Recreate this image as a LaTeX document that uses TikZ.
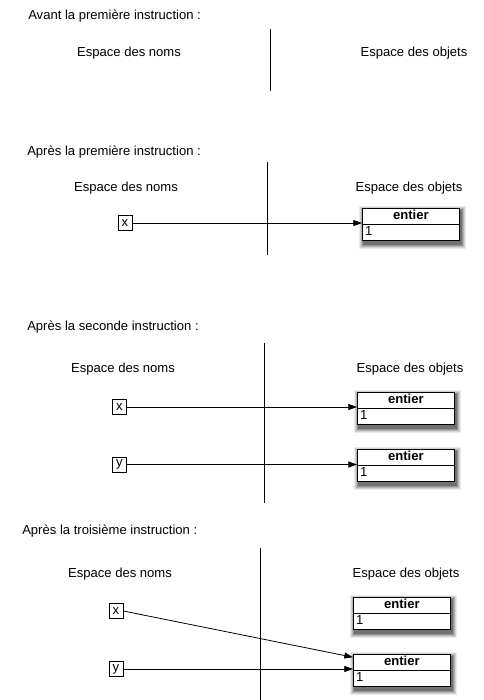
\documentclass[tikz,border=0pt]{standalone}
\usepackage{fontspec}
\setmainfont{Liberation Sans}
\usetikzlibrary{shapes.multipart,arrows.meta,calc,backgrounds}
\newcommand\mystrut{\rule[-3.1pt]{0pt}{11.25pt}}
\newcommand\boxshadow[1]{%
  \begin{scope}[on background layer]
    \foreach \e/\o in {4/0.08,3/0.1,2/0.14,1/0.18,0/0.24}{%
      \fill[black,opacity=\o] ([shift={(1-\e,2-\e)}]#1.north west) rectangle ([shift={(2+\e,4.5+\e)}]#1.south east);}
  \end{scope}}
\begin{document}
\begin{tikzpicture}[x=0.75pt,y=-0.75pt,
  every node/.style={font=\fontsize{9.8}{11}\selectfont},
  title/.style={anchor=base west,inner sep=0pt},
  space/.style={anchor=base,inner sep=0pt},
  sep/.style={line width=0.7pt,black},
  namebox/.style={draw,line width=0.6pt,minimum width=10.5pt,minimum height=11.25pt,inner sep=0pt},
  objbox/.style={rectangle split,rectangle split parts=2,draw,line width=0.6pt,fill=white,
    inner xsep=2pt,inner ysep=0pt,anchor=north west},
  arr/.style={line width=0.6pt,-{Triangle[length=6.5pt,width=4.5pt]}}]
\useasboundingbox (0,0) rectangle (483,700);
% ---------- section 1
\node[title] (t1) at (28,19) {Avant la première instruction :};
\node[space] (n1) at (129,56) {Espace des noms};
\node[space] (s1) at (414,56) {Espace des objets};
\coordinate (v1a) at (270,29); \coordinate (v1b) at (270,91);
\draw[sep] (v1a) -- (v1b);
% ---------- section 2
\node[title] (t2) at (27,155) {Après la première instruction :};
\node[space] (n2) at (126,191) {Espace des noms};
\node[space] (s2) at (409,191) {Espace des objets};
\coordinate (v2a) at (267,162); \coordinate (v2b) at (267,255);
\draw[sep] (v2a) -- (v2b);
\node[namebox] (x2) at (125,223) {x};
\node[objbox] (o2) at (362,208) {\makebox[68.75pt][c]{\mystrut\bfseries entier}\nodepart{two}\makebox[68.75pt][l]{\mystrut 1}};
\boxshadow{o2}
\draw[arr] (x2.east) -- (x2.east -| o2.west);
% ---------- section 3
\node[title] (t3) at (27,330) {Après la seconde instruction :};
\node[space] (n3) at (123,372) {Espace des noms};
\node[space] (s3) at (410,372) {Espace des objets};
\coordinate (v3a) at (264,343); \coordinate (v3b) at (264,503);
\draw[sep] (v3a) -- (v3b);
\node[namebox] (x3) at (119.5,407) {x};
\node[namebox] (y3) at (119.5,464.5) {y};
\node[objbox] (o3a) at (357,392) {\makebox[68.75pt][c]{\mystrut\bfseries entier}\nodepart{two}\makebox[68.75pt][l]{\mystrut 1}};
\node[objbox] (o3b) at (357,449) {\makebox[68.75pt][c]{\mystrut\bfseries entier}\nodepart{two}\makebox[68.75pt][l]{\mystrut 1}};
\boxshadow{o3a}\boxshadow{o3b}
\draw[arr] (x3.east) -- (x3.east -| o3a.west);
\draw[arr] (y3.east) -- (y3.east -| o3b.west);
% ---------- section 4
\node[title] (t4) at (22,534) {Après la troisième instruction :};
\node[space] (n4) at (120,577) {Espace des noms};
\node[space] (s4) at (406,577) {Espace des objets};
\coordinate (v4a) at (260,548); \coordinate (v4b) at (260,700);
\draw[sep] (v4a) -- (v4b);
\node[namebox] (x4) at (116,611) {x};
\node[namebox] (y4) at (116,669) {y};
\node[objbox] (o4a) at (353,597) {\makebox[68.75pt][c]{\mystrut\bfseries entier}\nodepart{two}\makebox[68.75pt][l]{\mystrut 1}};
\node[objbox] (o4b) at (353,654) {\makebox[68.75pt][c]{\mystrut\bfseries entier}\nodepart{two}\makebox[68.75pt][l]{\mystrut 1}};
\boxshadow{o4a}\boxshadow{o4b}
\coordinate (o4bx) at ($(o4b.north west)!0.2!(o4b.text split west)$);
\draw[arr] (x4.east) -- (o4bx);
\draw[arr] (y4.east) -- (y4.east -| o4b.west);
\end{tikzpicture}
\end{document}
